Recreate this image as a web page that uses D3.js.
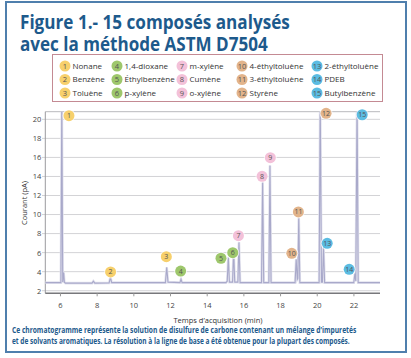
<!DOCTYPE html>
<html><head><meta charset="utf-8">
<script src="https://cdn.jsdelivr.net/npm/d3@7"></script>
<style>html,body{margin:0;padding:0;background:#fff;}svg{display:block;}</style>
</head><body>
<script>
// ---- data ----
const legendNames = ["Nonane","Benzène","Toluène","1,4-dioxane","Éthylbenzène","p-xylène","m-xylène","Cumène","o-xylène","4-éthyltoluène","3-éthyltoluène","Styrène","2-éthyltoluène","PDEB","Butylbenzène"];
const groupColors = ["#f7d06c","#9ec76c","#f3c1d9","#e2b48b","#5bbce2"];
const xTicks = [6,8,10,12,14,16,18,20,22];
const yTicks = [2,4,6,8,10,12,14,16,18,20];
// trace points (time in min, current in pA)
const traceTime  = [5.2,6.05,6.1,6.15,6.2,6.24,6.3,7.75,7.82,7.9,8.68,8.75,8.82,11.75,11.82,11.89,12.54,12.6,12.66,15.05,15.12,15.18,15.24,15.41,15.47,15.53,15.70,15.76,15.82,16.99,17.05,17.11,17.39,17.45,17.51,18.82,18.88,18.94,18.97,19.02,19.08,20.13,20.19,20.26,20.31,20.37,20.43,22.02,22.08,22.13,22.2,22.26,23.45];
const traceValue = [2.85,2.85,22,2.9,3.9,2.9,2.8,2.8,3.0,2.8,2.82,3.4,2.85,2.85,4.45,2.9,2.85,3.2,2.85,2.85,3.0,5.5,2.9,2.9,6.2,2.9,2.9,7.1,2.85,2.85,13.4,2.85,2.85,15.15,2.85,2.85,5.3,3.2,3.3,9.65,2.85,2.85,22,2.9,2.9,6.5,2.85,2.85,3.8,3.0,22,2.85,2.85];
// peak label anchors (time, value)
const labelTime  = [6.49,8.76,11.8,12.58,14.78,15.42,15.73,17.02,17.47,18.64,19.0,20.51,20.57,21.77,22.48];
const labelValue = [20.38,3.97,5.57,4.07,5.41,6.0,7.78,14.02,15.97,5.93,10.27,20.63,6.98,4.25,20.48];

// ---- layout ----
const W=411,H=358;
const svg=d3.select("body").append("svg").attr("width",W).attr("height",H);
const blue="#1d5a8c";
svg.append("rect").attr("x",6).attr("y",2).attr("width",400).attr("height",350)
  .attr("fill","#fff").attr("stroke","#4f7fad").attr("stroke-width",2);

function fitText(str,xp,yp,size,target,weight,fill){
  const t=svg.append("text").attr("font-family","Open Sans").attr("font-weight",weight)
    .attr("font-size",size).attr("fill",fill).text(str);
  const w=t.node().getComputedTextLength();
  t.attr("transform",`translate(${xp},${yp}) scale(${target/w},1)`);
  return t;
}
fitText("Figure 1.- 15 composés analysés",20,28.5,20,270,"bold",blue);
fitText("avec la méthode ASTM D7504",20,50.5,20,248,"bold",blue);

// legend
svg.append("rect").attr("x",52.5).attr("y",54.5).attr("width",330).attr("height",47)
  .attr("fill","#fff").attr("stroke","#c48a93").attr("stroke-width",1);
const colX=[65,117,182,242,317], rowY=[66,79.5,93];
legendNames.forEach((n,i)=>{
  const c=Math.floor(i/3), r=i%3;
  const g=svg.append("g").attr("transform",`translate(${colX[c]},${rowY[r]})`);
  g.append("circle").attr("r",5.5).attr("fill",groupColors[c]);
  g.append("text").attr("y",2.5).attr("text-anchor","middle").attr("font-family","Open Sans")
    .attr("font-size",7.5).attr("fill","#555").text(i+1);
  g.append("text").attr("x",7.5).attr("y",2.8).attr("font-family","Open Sans")
    .attr("font-size",8).attr("fill","#333").text(n);
});

// scales
const x=d3.scaleLinear().domain([5.2,23.45]).range([45.3,380]);
const y=d3.scaleLinear().domain([1.73,20.8]).range([293.3,111.7]);

// gridlines
svg.append("g").selectAll("line").data(yTicks).join("line")
  .attr("x1",42).attr("x2",380).attr("y1",d=>y(d)).attr("y2",d=>y(d))
  .attr("stroke","#d3d3d6").attr("stroke-width",1);
svg.append("line").attr("x1",45.3).attr("x2",380).attr("y1",111.7).attr("y2",111.7).attr("stroke","#b9b9bd");
svg.append("line").attr("x1",45.3).attr("x2",45.3).attr("y1",111.7).attr("y2",293.3).attr("stroke","#9a9a9e");
svg.append("line").attr("x1",45.3).attr("x2",380).attr("y1",293.3).attr("y2",293.3).attr("stroke","#77777b").attr("stroke-width",1.4);

// axes labels
const yAxis=d3.axisLeft(y).tickValues(yTicks).tickSize(0).tickPadding(4);
const ya=svg.append("g").attr("transform","translate(45.3,0)").call(yAxis);
ya.select(".domain").remove();
ya.selectAll("text").attr("font-family","Open Sans").attr("font-size",7.5).attr("fill","#444");
const xAxis=d3.axisBottom(x).tickValues(xTicks).tickSize(3).tickPadding(6);
const xa=svg.append("g").attr("transform","translate(0,293.3)").call(xAxis);
xa.select(".domain").remove();
xa.selectAll("line").attr("stroke","#999");
xa.selectAll("text").attr("font-family","Open Sans").attr("font-size",7.5).attr("fill","#444");

svg.append("text").attr("x",218).attr("y",323).attr("text-anchor","middle").attr("font-family","Open Sans")
  .attr("font-size",7.5).attr("fill","#333").text("Temps d’acquisition (min)");
svg.append("text").attr("transform","translate(27,203) rotate(-90)").attr("text-anchor","middle")
  .attr("font-family","Open Sans").attr("font-size",7.5).attr("fill","#333").text("Courant (pA)");

// trace
svg.append("clipPath").attr("id","clip").append("rect").attr("x",45.3).attr("y",111.7).attr("width",335).attr("height",181.6);
const pts=traceTime.map((t,i)=>[t,traceValue[i]]);
const line=d3.line().x(d=>x(d[0])).y(d=>y(d[1]));
svg.append("path").datum(pts).attr("clip-path","url(#clip)").attr("d",line)
  .attr("fill","none").attr("stroke","#e2e2ee").attr("stroke-width",2.6);
svg.append("path").datum(pts).attr("clip-path","url(#clip)").attr("d",line)
  .attr("fill","none").attr("stroke","#a9a9ca").attr("stroke-width",1.1);

// peak labels
labelTime.forEach((t,i)=>{
  const c=Math.floor(i/3);
  const g=svg.append("g").attr("transform",`translate(${x(t)},${y(labelValue[i])})`);
  g.append("circle").attr("r",6.5).attr("fill","#fff").attr("opacity",0.7);
  g.append("circle").attr("r",5.5).attr("fill",groupColors[c]);
  g.append("text").attr("y",2.5).attr("text-anchor","middle").attr("font-family","Open Sans")
    .attr("font-size",7).attr("fill","#555").text(i+1);
});

// caption
fitText("Ce chromatogramme représente la solution de disulfure de carbone contenant un mélange d’impuretés",12,333,8.5,345,"bold",blue);
fitText("et de solvants aromatiques. La résolution à la ligne de base a été obtenue pour la plupart des composés.",12,343.5,8.5,338,"bold",blue);
</script>
</body></html>
